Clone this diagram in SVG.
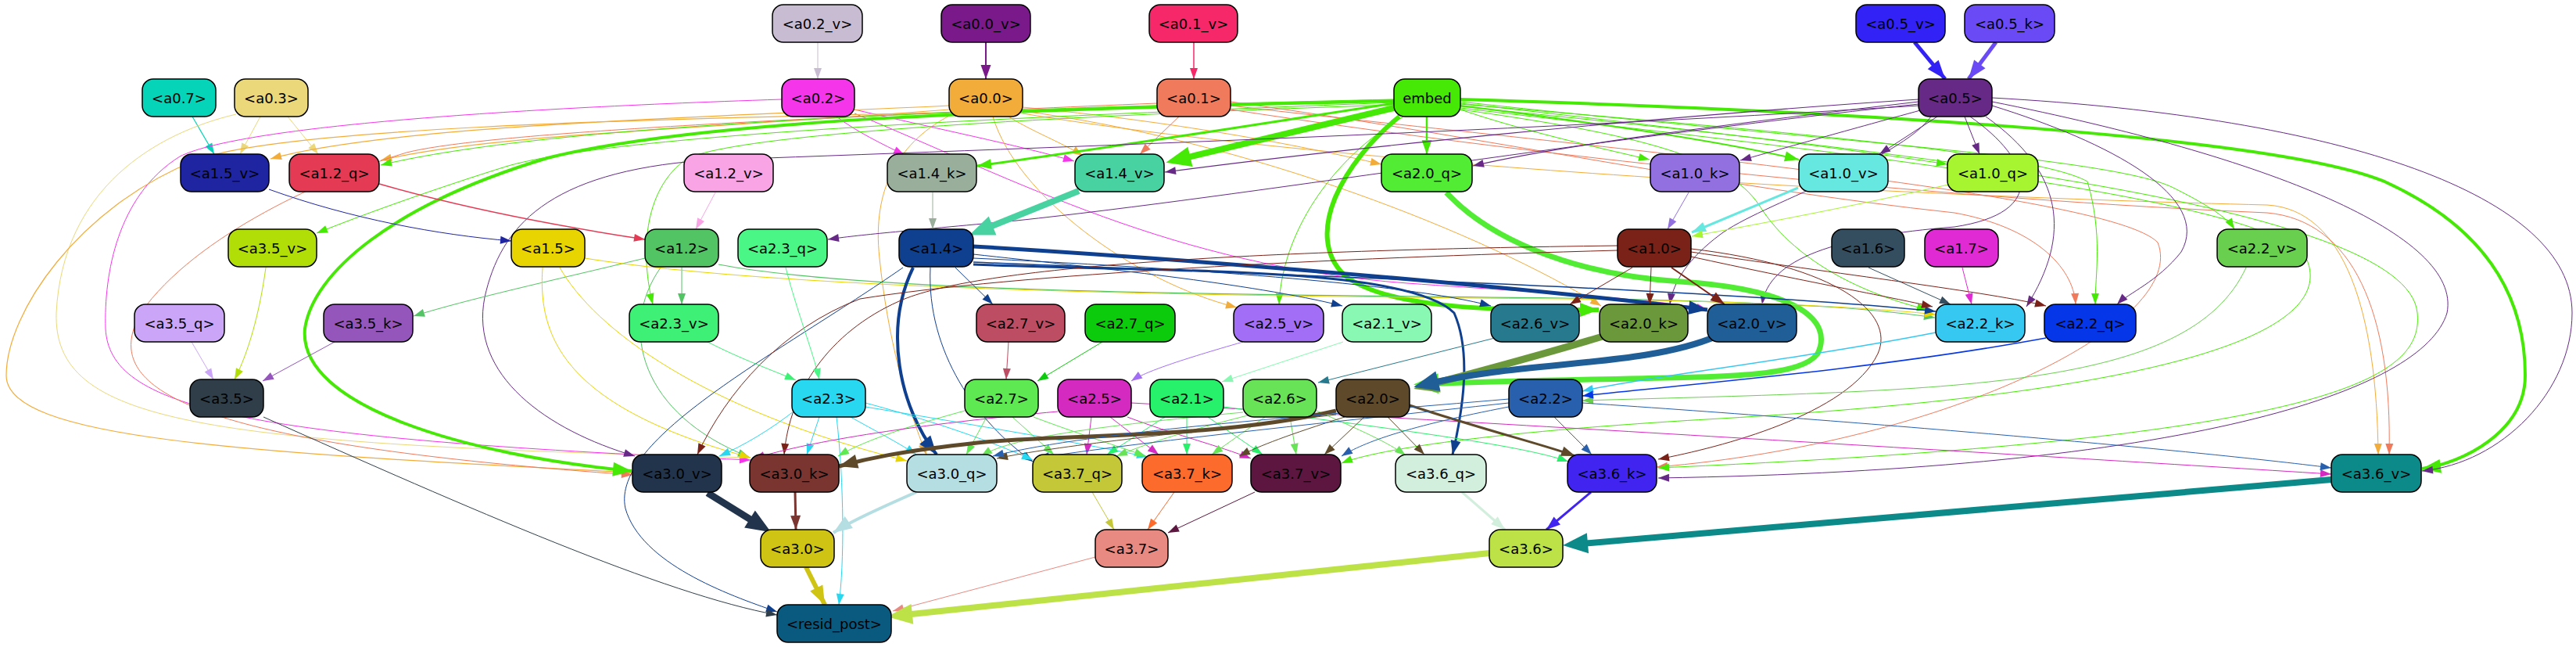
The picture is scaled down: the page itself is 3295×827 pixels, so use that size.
<svg xmlns="http://www.w3.org/2000/svg" width="3295" height="827" viewBox="0 0 3295 827">
<style>
.node rect{stroke:#000;stroke-width:1.5}
.node text{font-family:"DejaVu Sans","Liberation Sans",sans-serif;font-size:18px;text-anchor:middle;dominant-baseline:central;fill:#000}
#edges path{fill:none}
.a{marker-end:url(#ma)}
.b{marker-end:url(#mb)}
.c{marker-end:url(#mc)}
.d{marker-end:url(#md)}
</style>
<defs>
<marker id="ma" markerUnits="userSpaceOnUse" markerWidth="14" markerHeight="10" refX="14" refY="5" orient="auto" overflow="visible"><path d="M0,0 L14,5 L0,10 z" fill="context-stroke" stroke="none"/></marker>
<marker id="mb" markerUnits="userSpaceOnUse" markerWidth="18" markerHeight="13" refX="18" refY="6.5" orient="auto" overflow="visible"><path d="M0,0 L18,6.5 L0,13 z" fill="context-stroke" stroke="none"/></marker>
<marker id="mc" markerUnits="userSpaceOnUse" markerWidth="24" markerHeight="18" refX="24" refY="9" orient="auto" overflow="visible"><path d="M0,0 L24,9 L0,18 z" fill="context-stroke" stroke="none"/></marker>
<marker id="md" markerUnits="userSpaceOnUse" markerWidth="32" markerHeight="26" refX="20" refY="13" orient="auto" overflow="visible"><path d="M0,0 L32,13 L0,26 z" fill="context-stroke" stroke="none"/></marker>
</defs>
<rect width="3295" height="827" fill="#fff"/>
<g id="edges">
<path class="a" stroke="#c8bcd2" stroke-width="1" d="M1046,54 L1046,101"/>
<path class="b" stroke="#7a1a8a" stroke-width="2" d="M1261,54 L1261,101"/>
<path class="a" stroke="#f7286a" stroke-width="1.5" d="M1527,54 L1527,101"/>
<path class="c" stroke="#3222f5" stroke-width="5" d="M2449,54 L2488,101"/>
<path class="c" stroke="#6a4af5" stroke-width="5" d="M2553,54 L2518,101"/>
<path class="a" stroke="#05d4b8" stroke-width="1.2" d="M246,149 L274,197"/>
<path class="a" stroke="#ead87a" stroke-width="1" d="M333,149 L307,197"/>
<path class="a" stroke="#ead87a" stroke-width="1" d="M368,149 L407,197"/>
<path class="a" stroke="#ead87a" stroke-width="1" d="M302,146 C200,170 80,240 72,400 C68,540 250,568 960,585"/>
<path class="a" stroke="#f435ea" stroke-width="1" d="M1070,149 C1095,168 1130,185 1157,198"/>
<path class="a" stroke="#f435ea" stroke-width="1" d="M1093,140 C1200,165 1300,185 1374,206"/>
<path class="a" stroke="#f435ea" stroke-width="1" d="M1093,145 C1300,230 1500,340 1800,362 C2000,376 2120,382 2184,396"/>
<path class="a" stroke="#f435ea" stroke-width="1" d="M1000,127 C600,140 300,165 230,200 C150,250 133,350 135,420 C140,520 300,560 960,588"/>
<path class="a" stroke="#f2ac3a" stroke-width="1.2" d="M1214,135 C900,150 500,160 346,203"/>
<path class="a" stroke="#f2ac3a" stroke-width="1.2" d="M1214,140 C900,165 620,172 487,205"/>
<path class="a" stroke="#f2ac3a" stroke-width="1" d="M1290,149 C1320,168 1360,183 1385,199"/>
<path class="a" stroke="#f2ac3a" stroke-width="1" d="M1308,137 C1500,155 1660,185 1767,210"/>
<path class="a" stroke="#f2ac3a" stroke-width="1" d="M1270,149 C1300,250 1450,360 1582,393"/>
<path class="a" stroke="#f2ac3a" stroke-width="1" d="M1308,142 C1600,180 1900,300 2048,391"/>
<path class="a" stroke="#f2ac3a" stroke-width="1" d="M1308,145 C1700,210 2400,250 2900,262 C3000,268 3040,400 3042,581"/>
<path class="a" stroke="#f2ac3a" stroke-width="1.2" d="M1214,144 C800,152 350,165 250,205 C100,265 8,400 8,480 C8,560 300,578 809,604"/>
<path class="a" stroke="#f2ac3a" stroke-width="1" d="M1220,145 C1150,180 1115,240 1125,330 C1135,430 1160,520 1185,581"/>
<path class="a" stroke="#ef7a5c" stroke-width="1" d="M1508,149 L1458,197"/>
<path class="a" stroke="#ef7a5c" stroke-width="1" d="M1574,130 C1900,175 2200,240 2500,272 C2600,290 2652,340 2655,389"/>
<path class="a" stroke="#ef7a5c" stroke-width="1" d="M1574,140 C2000,205 2500,255 2900,272 C3010,282 3060,400 3056,581"/>
<path class="a" stroke="#ef7a5c" stroke-width="1" d="M1574,135 C2000,185 2700,245 2760,310 C2800,410 2500,565 2119,597"/>
<path class="a" stroke="#ef7a5c" stroke-width="1" d="M1480,132 C1000,152 620,170 520,195 C420,225 250,300 180,400 C130,490 210,565 809,607"/>
<path class="b" stroke="#46e805" stroke-width="3" d="M1783,132 C1600,160 1400,192 1250,212"/>
<path class="d" stroke="#46e805" stroke-width="8" d="M1783,138 L1503,205"/>
<path class="b" stroke="#46e805" stroke-width="2.5" d="M1825,149 L1825,197"/>
<path class="a" stroke="#46e805" stroke-width="1" d="M1868,140 C1950,168 2050,190 2110,204"/>
<path class="b" stroke="#46e805" stroke-width="2" d="M1868,135 C2050,158 2200,180 2301,204"/>
<path class="a" stroke="#46e805" stroke-width="1" d="M1868,132 C2100,158 2350,188 2491,210"/>
<path class="a" stroke="#46e805" stroke-width="1" d="M1868,130 C2300,178 2700,200 2780,240 C2830,265 2850,280 2858,293"/>
<path class="c" stroke="#46e805" stroke-width="4" d="M1868,127 C2300,140 2900,170 3050,232 C3200,300 3230,400 3230,480 C3230,552 3150,592 3098,599"/>
<path class="c" stroke="#46e805" stroke-width="4" d="M1783,129 C1300,140 900,152 700,202 C500,262 400,350 390,420 C380,520 600,582 808,602"/>
<path class="c" stroke="#46e805" stroke-width="6" d="M1790,149 C1720,205 1665,300 1720,352 C1780,400 1950,396 2045,396"/>
<path class="a" stroke="#46e805" stroke-width="1" d="M1795,149 C1700,205 1640,300 1636,389"/>
<path class="a" stroke="#46e805" stroke-width="1" d="M1868,133 C2200,162 2600,192 2670,232 C2690,300 2680,350 2680,389"/>
<path class="a" stroke="#46e805" stroke-width="1" d="M1868,140 C2100,172 2210,202 2250,262 C2300,342 2400,380 2466,396"/>
<path class="a" stroke="#46e805" stroke-width="1" d="M1783,127 C1200,140 700,160 487,211"/>
<path class="a" stroke="#46e805" stroke-width="1" d="M1783,131 C1300,150 800,170 650,212 C560,240 470,272 405,298"/>
<path class="a" stroke="#46e805" stroke-width="1" d="M1783,134 C1300,150 950,172 880,202 C820,242 820,330 835,389"/>
<path class="a" stroke="#46e805" stroke-width="1" d="M1868,138 C2300,190 2900,250 2950,330 C2990,420 2800,500 2200,535 C1900,552 1760,575 1716,592"/>
<path class="a" stroke="#46e805" stroke-width="1" d="M1868,136 C2400,190 3080,260 3092,400 C3100,480 3000,560 2121,598"/>
<path class="a" stroke="#662a86" stroke-width="1" d="M2460,140 C2350,170 2280,190 2226,205"/>
<path class="a" stroke="#662a86" stroke-width="1" d="M2478,149 L2404,197"/>
<path class="a" stroke="#662a86" stroke-width="1" d="M2513,149 L2532,197"/>
<path class="a" stroke="#662a86" stroke-width="1.2" d="M2454,130 C2200,160 2000,185 1884,212"/>
<path class="a" stroke="#662a86" stroke-width="1.2" d="M2454,127 C2100,150 1700,192 1490,220"/>
<path class="a" stroke="#662a86" stroke-width="1" d="M2454,133 C2000,182 1600,250 1300,282 C1150,296 1100,300 1059,306"/>
<path class="a" stroke="#662a86" stroke-width="1" d="M2470,149 C2430,205 2250,262 2200,300 C2160,330 2140,360 2136,389"/>
<path class="a" stroke="#662a86" stroke-width="1" d="M2520,149 C2600,205 2620,272 2500,290 C2350,302 2262,330 2254,389"/>
<path class="a" stroke="#662a86" stroke-width="1" d="M2540,149 C2640,220 2650,300 2592,392"/>
<path class="a" stroke="#662a86" stroke-width="1" d="M2548,135 C2700,182 2830,252 2790,322 C2760,360 2722,375 2708,389"/>
<path class="a" stroke="#662a86" stroke-width="1" d="M2548,130 C2900,200 3150,300 3130,400 C3100,500 2800,600 2121,611"/>
<path class="a" stroke="#662a86" stroke-width="1" d="M2548,125 C3000,150 3290,250 3290,400 C3290,500 3200,592 3098,602"/>
<path class="a" stroke="#662a86" stroke-width="1" d="M2454,135 C1900,170 1300,190 900,205 C700,220 640,290 620,380 C600,480 700,550 812,583"/>
<path class="a" stroke="#1f25a0" stroke-width="1" d="M344,242 C450,280 560,300 654,308"/>
<path class="a" stroke="#e43a54" stroke-width="1.5" d="M485,235 C600,268 720,290 825,306"/>
<path class="a" stroke="#f9a4e4" stroke-width="1" d="M915,246 L890,293"/>
<path class="a" stroke="#9aae9c" stroke-width="1" d="M1193,246 L1193,293"/>
<path class="d" stroke="#48d2a2" stroke-width="8" d="M1380,244 L1251,296"/>
<path class="d" stroke="#52ec35" stroke-width="7" d="M1850,246 C1900,300 2000,350 2150,360 C2300,370 2345,410 2325,452 C2295,492 2150,478 1820,491"/>
<path class="a" stroke="#9370e0" stroke-width="1" d="M2160,246 L2133,293"/>
<path class="b" stroke="#66e8e0" stroke-width="3" d="M2300,240 L2164,297"/>
<path class="a" stroke="#a6f530" stroke-width="1" d="M2492,236 C2350,268 2250,286 2164,302"/>
<path class="a" stroke="#52c463" stroke-width="1" d="M872,342 L872,389"/>
<path class="a" stroke="#52c463" stroke-width="1" d="M825,330 C700,360 600,382 529,404"/>
<path class="a" stroke="#52c463" stroke-width="1.2" d="M919,338 C1100,372 1500,376 2000,381 C2300,386 2400,395 2475,406"/>
<path class="a" stroke="#52c463" stroke-width="1" d="M845,342 C790,420 820,530 958,584"/>
<path class="a" stroke="#e8d400" stroke-width="1" d="M716,342 C760,420 900,525 1160,589"/>
<path class="a" stroke="#e8d400" stroke-width="1" d="M694,342 C688,430 720,520 960,585"/>
<path class="a" stroke="#e8d400" stroke-width="1" d="M748,330 C1000,370 1500,378 2000,382 C2300,386 2420,396 2476,402"/>
<path class="a" stroke="#0f3f8f" stroke-width="1" d="M1222,342 L1270,389"/>
<path class="a" stroke="#0f3f8f" stroke-width="1" d="M1245,325 C1400,342 1600,362 1717,391"/>
<path class="a" stroke="#0f3f8f" stroke-width="1" d="M1245,330 C1500,342 1800,362 1907,391"/>
<path class="c" stroke="#0f3f8f" stroke-width="5" d="M1245,315 C1500,330 1900,362 2184,396"/>
<path class="a" stroke="#0f3f8f" stroke-width="1.5" d="M1245,335 C1600,350 2200,370 2476,398"/>
<path class="c" stroke="#0f3f8f" stroke-width="4" d="M1168,342 C1130,420 1150,520 1198,581"/>
<path class="b" stroke="#0f3f8f" stroke-width="3" d="M1245,338 C1500,348 1800,340 1860,400 C1882,450 1872,520 1858,581"/>
<path class="a" stroke="#0f3f8f" stroke-width="1" d="M1155,342 C1000,450 780,560 800,650 C820,720 930,760 994,782"/>
<path class="a" stroke="#0f3f8f" stroke-width="1" d="M1190,342 C1185,450 1250,540 1321,590"/>
<path class="a" stroke="#7a2218" stroke-width="1" d="M2088,342 L2008,389"/>
<path class="a" stroke="#7a2218" stroke-width="1" d="M2112,342 L2110,389"/>
<path class="b" stroke="#7a2218" stroke-width="2" d="M2138,342 L2206,389"/>
<path class="a" stroke="#7a2218" stroke-width="1" d="M2163,328 C2300,358 2420,380 2472,392"/>
<path class="a" stroke="#7a2218" stroke-width="1" d="M2163,322 C2350,350 2550,374 2617,391"/>
<path class="a" stroke="#7a2218" stroke-width="1" d="M2069,320 C1700,330 1300,350 1100,382 C1000,420 930,500 892,581"/>
<path class="a" stroke="#7a2218" stroke-width="1" d="M2069,314 C1600,320 1250,340 1150,385 C1060,425 1010,500 1003,581"/>
<path class="a" stroke="#7a2218" stroke-width="1" d="M2163,318 C2350,340 2425,400 2402,452 C2365,530 2200,572 2121,587"/>
<path class="a" stroke="#344e60" stroke-width="1" d="M2390,342 L2495,389"/>
<path class="a" stroke="#e02ad4" stroke-width="1" d="M2510,342 L2522,389"/>
<path class="a" stroke="#4af786" stroke-width="1" d="M1005,342 C1020,400 1040,450 1048,485"/>
<path class="a" stroke="#3ff077" stroke-width="1" d="M905,437 C950,460 990,474 1018,486"/>
<path class="a" stroke="#b2de08" stroke-width="1" d="M340,342 C332,400 318,450 300,485"/>
<path class="a" stroke="#cba6f8" stroke-width="1" d="M245,437 L273,485"/>
<path class="a" stroke="#9556bb" stroke-width="1" d="M428,437 L336,487"/>
<path class="a" stroke="#68d04e" stroke-width="1" d="M2873,342 C2800,500 2500,498 2024,512"/>
<path class="a" stroke="#bc4d62" stroke-width="1" d="M1290,437 L1287,485"/>
<path class="a" stroke="#0ccb0c" stroke-width="1" d="M1410,437 L1327,487"/>
<path class="a" stroke="#a36ef6" stroke-width="1" d="M1590,437 C1510,460 1465,475 1447,487"/>
<path class="a" stroke="#88f8b2" stroke-width="1" d="M1718,437 L1563,488"/>
<path class="a" stroke="#277a8e" stroke-width="1" d="M1920,430 L1686,489"/>
<path class="d" stroke="#6b983a" stroke-width="9" d="M2050,430 C1950,460 1880,478 1820,494"/>
<path class="d" stroke="#1f5e96" stroke-width="8" d="M2195,430 C2100,470 1950,460 1820,492"/>
<path class="a" stroke="#36c8f0" stroke-width="1.5" d="M2476,425 C2300,460 2100,482 2024,500"/>
<path class="a" stroke="#0536e8" stroke-width="1.5" d="M2617,432 C2400,472 2150,492 2024,506"/>
<path class="a" stroke="#28d8f0" stroke-width="1" d="M1020,522 C985,550 950,570 920,583"/>
<path class="a" stroke="#28d8f0" stroke-width="1" d="M1048,533 L1032,581"/>
<path class="a" stroke="#28d8f0" stroke-width="1" d="M1070,533 C1080,620 1080,720 1073,773"/>
<path class="a" stroke="#28d8f0" stroke-width="1" d="M1088,533 C1118,550 1148,565 1172,581"/>
<path class="a" stroke="#28d8f0" stroke-width="1" d="M1107,515 C1200,540 1270,565 1321,588"/>
<path class="a" stroke="#28d8f0" stroke-width="1" d="M1107,520 C1300,552 1400,570 1468,584"/>
<path class="a" stroke="#5ee852" stroke-width="1" d="M1262,533 L1236,581"/>
<path class="a" stroke="#5ee852" stroke-width="1" d="M1295,533 L1348,581"/>
<path class="a" stroke="#5ee852" stroke-width="1" d="M1322,533 C1380,555 1430,570 1465,583"/>
<path class="a" stroke="#5ee852" stroke-width="1" d="M1234,525 C1180,540 1110,560 1072,583"/>
<path class="a" stroke="#d42ac0" stroke-width="1" d="M1353,526 C1200,540 1050,560 964,586"/>
<path class="a" stroke="#d42ac0" stroke-width="1" d="M1396,533 L1390,581"/>
<path class="a" stroke="#d42ac0" stroke-width="1" d="M1420,533 L1482,581"/>
<path class="a" stroke="#d42ac0" stroke-width="1" d="M1442,533 C1500,555 1560,570 1600,586"/>
<path class="a" stroke="#d42ac0" stroke-width="1" d="M1447,515 C1900,540 2600,582 2982,606"/>
<path class="a" stroke="#27f06a" stroke-width="1" d="M1518,533 L1518,581"/>
<path class="a" stroke="#27f06a" stroke-width="1" d="M1490,533 L1416,581"/>
<path class="a" stroke="#27f06a" stroke-width="1" d="M1545,533 L1615,581"/>
<path class="a" stroke="#27f06a" stroke-width="1" d="M1565,520 C1800,550 1950,570 2006,590"/>
<path class="a" stroke="#68e256" stroke-width="1" d="M1650,533 L1658,581"/>
<path class="a" stroke="#68e256" stroke-width="1" d="M1600,530 C1500,555 1460,570 1428,583"/>
<path class="a" stroke="#68e256" stroke-width="1" d="M1618,533 L1550,581"/>
<path class="a" stroke="#68e256" stroke-width="1" d="M1684,525 C1740,550 1775,565 1798,582"/>
<path class="a" stroke="#68e256" stroke-width="1" d="M1590,527 C1400,545 1290,560 1255,583"/>
<path class="c" stroke="#5e4a2a" stroke-width="5" d="M1709,525 C1550,562 1350,555 1250,566 C1150,577 1110,586 1073,596"/>
<path class="a" stroke="#5e4a2a" stroke-width="1" d="M1720,533 C1650,555 1610,570 1585,583"/>
<path class="a" stroke="#5e4a2a" stroke-width="1" d="M1745,533 L1694,581"/>
<path class="a" stroke="#5e4a2a" stroke-width="1" d="M1775,533 L1822,581"/>
<path class="b" stroke="#5e4a2a" stroke-width="3" d="M1803,518 C1900,550 1980,570 2015,583"/>
<path class="a" stroke="#5e4a2a" stroke-width="1" d="M1709,530 C1500,555 1350,570 1275,586"/>
<path class="a" stroke="#2860ae" stroke-width="1" d="M1988,533 L2036,581"/>
<path class="a" stroke="#2860ae" stroke-width="1" d="M2024,515 C2400,540 2800,575 2982,598"/>
<path class="a" stroke="#2860ae" stroke-width="1" d="M1930,520 C1800,545 1745,565 1716,583"/>
<path class="a" stroke="#2860ae" stroke-width="1" d="M1930,515 C1700,540 1500,560 1328,585"/>
<path class="a" stroke="#2860ae" stroke-width="1" d="M1930,510 C1700,530 1400,550 1270,583"/>
<path class="d" stroke="#22344c" stroke-width="9" d="M905,630 L976,674"/>
<path class="b" stroke="#7a3530" stroke-width="3" d="M1017,629 L1018,677"/>
<path class="c" stroke="#b4dee2" stroke-width="4" d="M1172,629 C1120,652 1085,668 1066,681"/>
<path class="a" stroke="#c4c838" stroke-width="1" d="M1397,629 L1425,677"/>
<path class="a" stroke="#fc6a2c" stroke-width="1" d="M1502,629 L1468,677"/>
<path class="a" stroke="#5c1640" stroke-width="1" d="M1605,629 L1494,681"/>
<path class="b" stroke="#d2eedc" stroke-width="3" d="M1870,629 L1925,677"/>
<path class="b" stroke="#4224f0" stroke-width="3" d="M2035,629 L1978,677"/>
<path class="d" stroke="#0c8a8a" stroke-width="8" d="M2982,613 L2011,696"/>
<path class="c" stroke="#cfc414" stroke-width="6" d="M1031,725 L1055,773"/>
<path class="a" stroke="#e88a82" stroke-width="1" d="M1401,712 L1142,781"/>
<path class="d" stroke="#bce248" stroke-width="8" d="M1905,707 L1147,787"/>
<path class="a" stroke="#2f3e48" stroke-width="1" d="M337,533 C600,650 850,760 994,786"/>
</g>
<g id="n-a0_2_v" class="node"><rect x="988" y="6" width="115" height="48" rx="14" fill="#c8bcd2"/><text x="1045.5" y="30">&lt;a0.2_v&gt;</text></g>
<g id="n-a0_0_v" class="node"><rect x="1204" y="6" width="114" height="48" rx="14" fill="#7a1a8a"/><text x="1261" y="30">&lt;a0.0_v&gt;</text></g>
<g id="n-a0_1_v" class="node"><rect x="1470" y="6" width="113" height="48" rx="14" fill="#f7286a"/><text x="1526.5" y="30">&lt;a0.1_v&gt;</text></g>
<g id="n-a0_5_v" class="node"><rect x="2374" y="6" width="114" height="48" rx="14" fill="#3222f5"/><text x="2431" y="30">&lt;a0.5_v&gt;</text></g>
<g id="n-a0_5_k" class="node"><rect x="2513" y="6" width="115" height="48" rx="14" fill="#6a4af5"/><text x="2570.5" y="30">&lt;a0.5_k&gt;</text></g>
<g id="n-a0_7" class="node"><rect x="182" y="101" width="94" height="48" rx="14" fill="#05d4b8"/><text x="229" y="125">&lt;a0.7&gt;</text></g>
<g id="n-a0_3" class="node"><rect x="300" y="101" width="94" height="48" rx="14" fill="#ead87a"/><text x="347" y="125">&lt;a0.3&gt;</text></g>
<g id="n-a0_2" class="node"><rect x="1000" y="101" width="93" height="48" rx="14" fill="#f435ea"/><text x="1046.5" y="125">&lt;a0.2&gt;</text></g>
<g id="n-a0_0" class="node"><rect x="1214" y="101" width="94" height="48" rx="14" fill="#f2ac3a"/><text x="1261" y="125">&lt;a0.0&gt;</text></g>
<g id="n-a0_1" class="node"><rect x="1480" y="101" width="94" height="48" rx="14" fill="#ef7a5c"/><text x="1527" y="125">&lt;a0.1&gt;</text></g>
<g id="n-embed" class="node"><rect x="1783" y="101" width="85" height="48" rx="14" fill="#46e805"/><text x="1825.5" y="125">embed</text></g>
<g id="n-a0_5" class="node"><rect x="2454" y="101" width="94" height="48" rx="14" fill="#662a86"/><text x="2501" y="125">&lt;a0.5&gt;</text></g>
<g id="n-a1_5_v" class="node"><rect x="231" y="197" width="113" height="48" rx="14" fill="#1f25a0"/><text x="287.5" y="221">&lt;a1.5_v&gt;</text></g>
<g id="n-a1_2_q" class="node"><rect x="370" y="197" width="115" height="48" rx="14" fill="#e43a54"/><text x="427.5" y="221">&lt;a1.2_q&gt;</text></g>
<g id="n-a1_2_v" class="node"><rect x="875" y="197" width="114" height="48" rx="14" fill="#f9a4e4"/><text x="932" y="221">&lt;a1.2_v&gt;</text></g>
<g id="n-a1_4_k" class="node"><rect x="1135" y="197" width="114" height="48" rx="14" fill="#9aae9c"/><text x="1192" y="221">&lt;a1.4_k&gt;</text></g>
<g id="n-a1_4_v" class="node"><rect x="1375" y="197" width="114" height="48" rx="14" fill="#48d2a2"/><text x="1432" y="221">&lt;a1.4_v&gt;</text></g>
<g id="n-a2_0_q" class="node"><rect x="1767" y="197" width="116" height="48" rx="14" fill="#52ec35"/><text x="1825" y="221">&lt;a2.0_q&gt;</text></g>
<g id="n-a1_0_k" class="node"><rect x="2111" y="197" width="114" height="48" rx="14" fill="#9370e0"/><text x="2168" y="221">&lt;a1.0_k&gt;</text></g>
<g id="n-a1_0_v" class="node"><rect x="2301" y="197" width="114" height="48" rx="14" fill="#66e8e0"/><text x="2358" y="221">&lt;a1.0_v&gt;</text></g>
<g id="n-a1_0_q" class="node"><rect x="2491" y="197" width="116" height="48" rx="14" fill="#a6f530"/><text x="2549" y="221">&lt;a1.0_q&gt;</text></g>
<g id="n-a3_5_v" class="node"><rect x="292" y="293" width="113" height="48" rx="14" fill="#b2de08"/><text x="348.5" y="317">&lt;a3.5_v&gt;</text></g>
<g id="n-a1_5" class="node"><rect x="654" y="293" width="94" height="48" rx="14" fill="#e8d400"/><text x="701" y="317">&lt;a1.5&gt;</text></g>
<g id="n-a1_2" class="node"><rect x="825" y="293" width="94" height="48" rx="14" fill="#52c463"/><text x="872" y="317">&lt;a1.2&gt;</text></g>
<g id="n-a2_3_q" class="node"><rect x="944" y="293" width="114" height="48" rx="14" fill="#4af786"/><text x="1001" y="317">&lt;a2.3_q&gt;</text></g>
<g id="n-a1_4" class="node"><rect x="1150" y="293" width="95" height="48" rx="14" fill="#0f3f8f"/><text x="1197.5" y="317">&lt;a1.4&gt;</text></g>
<g id="n-a1_0" class="node"><rect x="2069" y="293" width="94" height="48" rx="14" fill="#7a2218"/><text x="2116" y="317">&lt;a1.0&gt;</text></g>
<g id="n-a1_6" class="node"><rect x="2343" y="293" width="93" height="48" rx="14" fill="#344e60"/><text x="2389.5" y="317">&lt;a1.6&gt;</text></g>
<g id="n-a1_7" class="node"><rect x="2462" y="293" width="94" height="48" rx="14" fill="#e02ad4"/><text x="2509" y="317">&lt;a1.7&gt;</text></g>
<g id="n-a2_2_v" class="node"><rect x="2836" y="293" width="115" height="48" rx="14" fill="#68d04e"/><text x="2893.5" y="317">&lt;a2.2_v&gt;</text></g>
<g id="n-a3_5_q" class="node"><rect x="172" y="389" width="115" height="48" rx="14" fill="#cba6f8"/><text x="229.5" y="413">&lt;a3.5_q&gt;</text></g>
<g id="n-a3_5_k" class="node"><rect x="414" y="389" width="114" height="48" rx="14" fill="#9556bb"/><text x="471" y="413">&lt;a3.5_k&gt;</text></g>
<g id="n-a2_3_v" class="node"><rect x="805" y="389" width="114" height="48" rx="14" fill="#3ff077"/><text x="862" y="413">&lt;a2.3_v&gt;</text></g>
<g id="n-a2_7_v" class="node"><rect x="1249" y="389" width="113" height="48" rx="14" fill="#bc4d62"/><text x="1305.5" y="413">&lt;a2.7_v&gt;</text></g>
<g id="n-a2_7_q" class="node"><rect x="1388" y="389" width="115" height="48" rx="14" fill="#0ccb0c"/><text x="1445.5" y="413">&lt;a2.7_q&gt;</text></g>
<g id="n-a2_5_v" class="node"><rect x="1578" y="389" width="115" height="48" rx="14" fill="#a36ef6"/><text x="1635.5" y="413">&lt;a2.5_v&gt;</text></g>
<g id="n-a2_1_v" class="node"><rect x="1717" y="389" width="114" height="48" rx="14" fill="#88f8b2"/><text x="1774" y="413">&lt;a2.1_v&gt;</text></g>
<g id="n-a2_6_v" class="node"><rect x="1907" y="389" width="113" height="48" rx="14" fill="#277a8e"/><text x="1963.5" y="413">&lt;a2.6_v&gt;</text></g>
<g id="n-a2_0_k" class="node"><rect x="2046" y="389" width="113" height="48" rx="14" fill="#6b983a"/><text x="2102.5" y="413">&lt;a2.0_k&gt;</text></g>
<g id="n-a2_0_v" class="node"><rect x="2184" y="389" width="114" height="48" rx="14" fill="#1f5e96"/><text x="2241" y="413">&lt;a2.0_v&gt;</text></g>
<g id="n-a2_2_k" class="node"><rect x="2476" y="389" width="114" height="48" rx="14" fill="#36c8f0"/><text x="2533" y="413">&lt;a2.2_k&gt;</text></g>
<g id="n-a2_2_q" class="node"><rect x="2615" y="389" width="117" height="48" rx="14" fill="#0536e8"/><text x="2673.5" y="413">&lt;a2.2_q&gt;</text></g>
<g id="n-a3_5" class="node"><rect x="243" y="485" width="94" height="48" rx="14" fill="#2f3e48"/><text x="290" y="509">&lt;a3.5&gt;</text></g>
<g id="n-a2_3" class="node"><rect x="1013" y="485" width="94" height="48" rx="14" fill="#28d8f0"/><text x="1060" y="509">&lt;a2.3&gt;</text></g>
<g id="n-a2_7" class="node"><rect x="1234" y="485" width="94" height="48" rx="14" fill="#5ee852"/><text x="1281" y="509">&lt;a2.7&gt;</text></g>
<g id="n-a2_5" class="node"><rect x="1353" y="485" width="94" height="48" rx="14" fill="#d42ac0"/><text x="1400" y="509">&lt;a2.5&gt;</text></g>
<g id="n-a2_1" class="node"><rect x="1471" y="485" width="94" height="48" rx="14" fill="#27f06a"/><text x="1518" y="509">&lt;a2.1&gt;</text></g>
<g id="n-a2_6" class="node"><rect x="1590" y="485" width="94" height="48" rx="14" fill="#68e256"/><text x="1637" y="509">&lt;a2.6&gt;</text></g>
<g id="n-a2_0" class="node"><rect x="1709" y="485" width="94" height="48" rx="14" fill="#5e4a2a"/><text x="1756" y="509">&lt;a2.0&gt;</text></g>
<g id="n-a2_2" class="node"><rect x="1930" y="485" width="94" height="48" rx="14" fill="#2860ae"/><text x="1977" y="509">&lt;a2.2&gt;</text></g>
<g id="n-a3_0_v" class="node"><rect x="809" y="581" width="114" height="48" rx="14" fill="#22344c"/><text x="866" y="605">&lt;a3.0_v&gt;</text></g>
<g id="n-a3_0_k" class="node"><rect x="959" y="581" width="114" height="48" rx="14" fill="#7a3530"/><text x="1016" y="605">&lt;a3.0_k&gt;</text></g>
<g id="n-a3_0_q" class="node"><rect x="1160" y="581" width="115" height="48" rx="14" fill="#b4dee2"/><text x="1217.5" y="605">&lt;a3.0_q&gt;</text></g>
<g id="n-a3_7_q" class="node"><rect x="1321" y="581" width="114" height="48" rx="14" fill="#c4c838"/><text x="1378" y="605">&lt;a3.7_q&gt;</text></g>
<g id="n-a3_7_k" class="node"><rect x="1461" y="581" width="115" height="48" rx="14" fill="#fc6a2c"/><text x="1518.5" y="605">&lt;a3.7_k&gt;</text></g>
<g id="n-a3_7_v" class="node"><rect x="1600" y="581" width="115" height="48" rx="14" fill="#5c1640"/><text x="1657.5" y="605">&lt;a3.7_v&gt;</text></g>
<g id="n-a3_6_q" class="node"><rect x="1785" y="581" width="116" height="48" rx="14" fill="#d2eedc"/><text x="1843" y="605">&lt;a3.6_q&gt;</text></g>
<g id="n-a3_6_k" class="node"><rect x="2005" y="581" width="114" height="48" rx="14" fill="#4224f0"/><text x="2062" y="605">&lt;a3.6_k&gt;</text></g>
<g id="n-a3_6_v" class="node"><rect x="2982" y="581" width="115" height="48" rx="14" fill="#0c8a8a"/><text x="3039.5" y="605">&lt;a3.6_v&gt;</text></g>
<g id="n-a3_0" class="node"><rect x="973" y="677" width="94" height="48" rx="14" fill="#cfc414"/><text x="1020" y="701">&lt;a3.0&gt;</text></g>
<g id="n-a3_7" class="node"><rect x="1401" y="677" width="93" height="48" rx="14" fill="#e88a82"/><text x="1447.5" y="701">&lt;a3.7&gt;</text></g>
<g id="n-a3_6" class="node"><rect x="1905" y="677" width="94" height="48" rx="14" fill="#bce248"/><text x="1952" y="701">&lt;a3.6&gt;</text></g>
<g id="n-resid_post" class="node"><rect x="994" y="773" width="146" height="48" rx="14" fill="#0a5a80"/><text x="1067" y="797">&lt;resid_post&gt;</text></g>
</svg>
